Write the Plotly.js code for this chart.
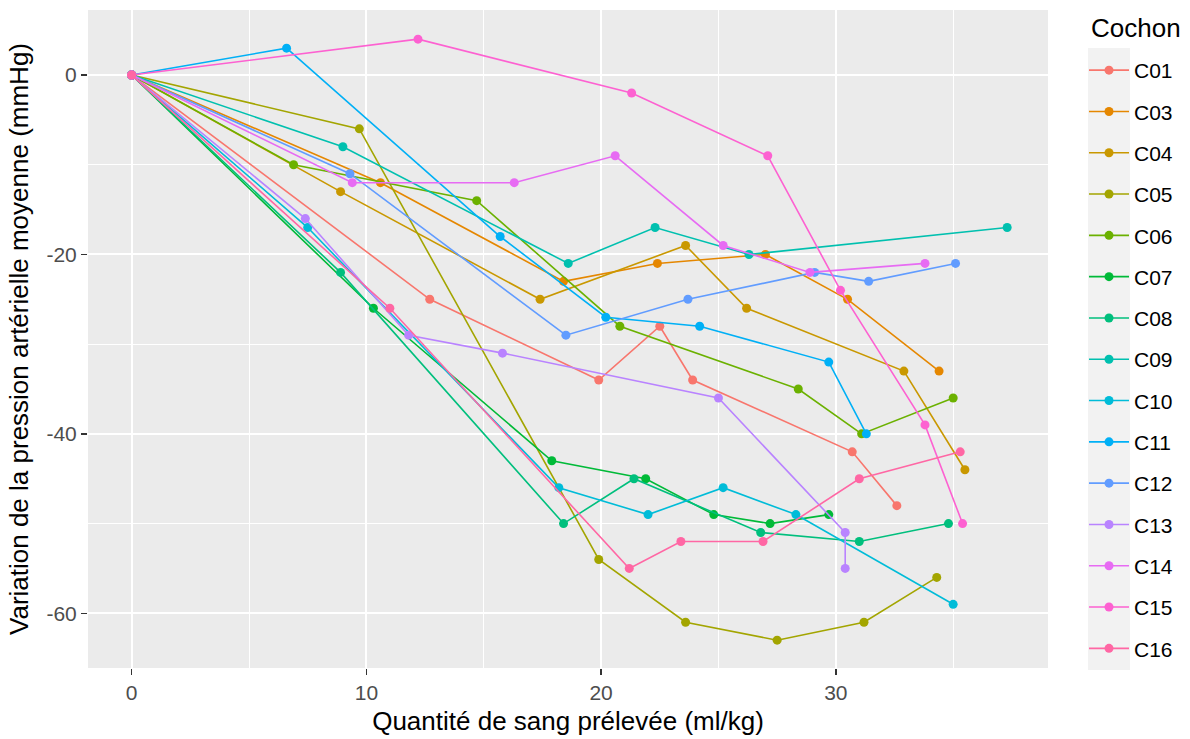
<!DOCTYPE html>
<html>
<head>
<meta charset="utf-8">
<script src="https://cdn.plot.ly/plotly-3.0.1.min.js"></script>
<style>html,body{margin:0;padding:0;background:#fff;}#chart{width:1190px;height:739px;}</style>
</head>
<body>
<div id="chart"></div>
<script>
// Data
const cochons = ["C01","C03","C04","C05","C06","C07","C08","C09","C10","C11","C12","C13","C14","C15","C16"];

const x_C01 = [0, 12.7, 19.9, 22.5, 23.9, 30.7, 32.6];
const y_C01 = [0, -25, -34, -28, -34, -42, -48];
const x_C03 = [0, 10.6, 18.4, 22.4, 27.0, 30.5, 34.4];
const y_C03 = [0, -12, -23, -21, -20, -25, -33];
const x_C04 = [0, 8.9, 17.4, 23.6, 26.2, 32.9, 35.5];
const y_C04 = [0, -13, -25, -19, -26, -33, -44];
const x_C05 = [0, 9.7, 19.9, 23.6, 27.5, 31.2, 34.3];
const y_C05 = [0, -6, -54, -61, -63, -61, -56];
const x_C06 = [0, 6.9, 14.7, 20.8, 28.4, 31.1, 35.0];
const y_C06 = [0, -10, -14, -28, -35, -40, -36];
const x_C07 = [0, 10.3, 17.9, 21.9, 24.8, 27.2, 29.7];
const y_C07 = [0, -26, -43, -45, -49, -50, -49];
const x_C08 = [0, 8.9, 18.4, 21.4, 26.8, 31.0, 34.8];
const y_C08 = [0, -22, -50, -45, -51, -52, -50];
const x_C09 = [0, 9.0, 18.6, 22.3, 26.3, 37.3];
const y_C09 = [0, -8, -21, -17, -20, -17];
const x_C10 = [0, 7.5, 18.2, 22.0, 25.2, 28.3, 35.0];
const y_C10 = [0, -17, -46, -49, -46, -49, -59];
const x_C11 = [0, 6.6, 15.7, 20.2, 24.2, 29.7, 31.3];
const y_C11 = [0, 3, -18, -27, -28, -32, -40];
const x_C12 = [0, 9.3, 18.5, 23.7, 29.1, 31.4, 35.1];
const y_C12 = [0, -11, -29, -25, -22, -23, -21];
const x_C13 = [0, 7.4, 11.8, 15.8, 25.0, 30.4, 30.4];
const y_C13 = [0, -16, -29, -31, -36, -51, -55];
const x_C14 = [0, 9.4, 16.3, 20.6, 25.2, 28.9, 33.8];
const y_C14 = [0, -12, -12, -9, -19, -22, -21];
const x_C15 = [0, 12.2, 21.3, 27.1, 30.2, 33.8, 35.4];
const y_C15 = [0, 4, -2, -9, -24, -39, -50];
const x_C16 = [0, 11.0, 21.2, 23.4, 26.9, 31.0, 35.3];
const y_C16 = [0, -26, -55, -52, -52, -45, -42];

const xTickVals = [0, 10, 20, 30];
const xTickText = ["0", "10", "20", "30"];
const yTickVals = [0, -20, -40, -60];
const yTickText = ["0", "-20", "-40", "-60"];

const seriesX = [x_C01,x_C03,x_C04,x_C05,x_C06,x_C07,x_C08,x_C09,x_C10,x_C11,x_C12,x_C13,x_C14,x_C15,x_C16];
const seriesY = [y_C01,y_C03,y_C04,y_C05,y_C06,y_C07,y_C08,y_C09,y_C10,y_C11,y_C12,y_C13,y_C14,y_C15,y_C16];

const palette = ["#F8766D","#E58700","#C99800","#A3A500","#6BB100","#00BA38","#00BF7D","#00C0AF","#00BCD8","#00B0F6","#619CFF","#B983FF","#E76BF3","#FD61D1","#FF67A4"];

const FONT = '"Liberation Sans", Arial, sans-serif';

const traces = cochons.map((name, i) => ({
  type: 'scatter',
  mode: 'lines+markers',
  name: name,
  legendgroup: name,
  x: seriesX[i],
  y: seriesY[i],
  line: {color: palette[i], width: 1.6},
  marker: {color: palette[i], size: 9},
  hoverinfo: 'x+y+name'
}));

const layout = {
  width: 1190,
  height: 739,
  margin: {l: 88, r: 142, t: 10, b: 71, autoexpand: false},
  paper_bgcolor: '#FFFFFF',
  plot_bgcolor: '#EBEBEB',
  font: {family: FONT, size: 21, color: '#000000'},
  showlegend: true,
  xaxis: {
    range: [-1.86, 39.04],
    tickvals: xTickVals,
    ticktext: xTickText,
    ticks: 'outside', ticklen: 6, tickwidth: 1.4, tickcolor: '#333333',
    tickfont: {family: FONT, size: 21, color: '#4D4D4D'},
    showgrid: true, gridcolor: '#FFFFFF', gridwidth: 2,
    minor: {dtick: 5, tick0: 0, showgrid: true, gridcolor: '#FFFFFF', gridwidth: 1, ticks: ''},
    zeroline: false, showline: false,
    automargin: false,
    title: {text: 'Quantité de sang prélevée (ml/kg)', font: {family: FONT, size: 26, color: '#000000'}, standoff: 8}
  },
  yaxis: {
    range: [-66.1, 7.25],
    tickvals: yTickVals,
    ticktext: yTickText,
    ticks: 'outside', ticklen: 6, tickwidth: 1.4, tickcolor: '#333333',
    tickfont: {family: FONT, size: 21, color: '#4D4D4D'},
    showgrid: true, gridcolor: '#FFFFFF', gridwidth: 2,
    minor: {dtick: 10, tick0: 0, showgrid: true, gridcolor: '#FFFFFF', gridwidth: 1, ticks: ''},
    zeroline: false, showline: false,
    automargin: false,
    title: {text: 'Variation de la pression artérielle moyenne (mmHg)', font: {family: FONT, size: 26, color: '#000000'}, standoff: 10}
  },
  legend: {
    x: (1084 - 88) / 960, xanchor: 'left',
    y: (668 - 50) / 658, yanchor: 'top',
    bgcolor: 'rgba(0,0,0,0)',
    borderwidth: 0,
    tracegroupgap: 11,
    itemwidth: 40,
    font: {family: FONT, size: 21, color: '#000000'}
  },
  annotations: [{
    text: 'Cochon', xref: 'paper', yref: 'paper',
    x: (1089 - 88) / 960, y: (668 - 28) / 658,
    xanchor: 'left', yanchor: 'middle', showarrow: false,
    font: {family: FONT, size: 26, color: '#000000'}
  }],
  shapes: [{
    type: 'rect', xref: 'paper', yref: 'paper', layer: 'below',
    x0: (1088 - 88) / 960, x1: (1130 - 88) / 960,
    y0: (668 - 670) / 658, y1: (668 - 48) / 658,
    fillcolor: '#F2F2F2', line: {width: 0}
  }]
};

Plotly.newPlot('chart', traces, layout, {displayModeBar: false, staticPlot: true});
</script>
</body>
</html>
